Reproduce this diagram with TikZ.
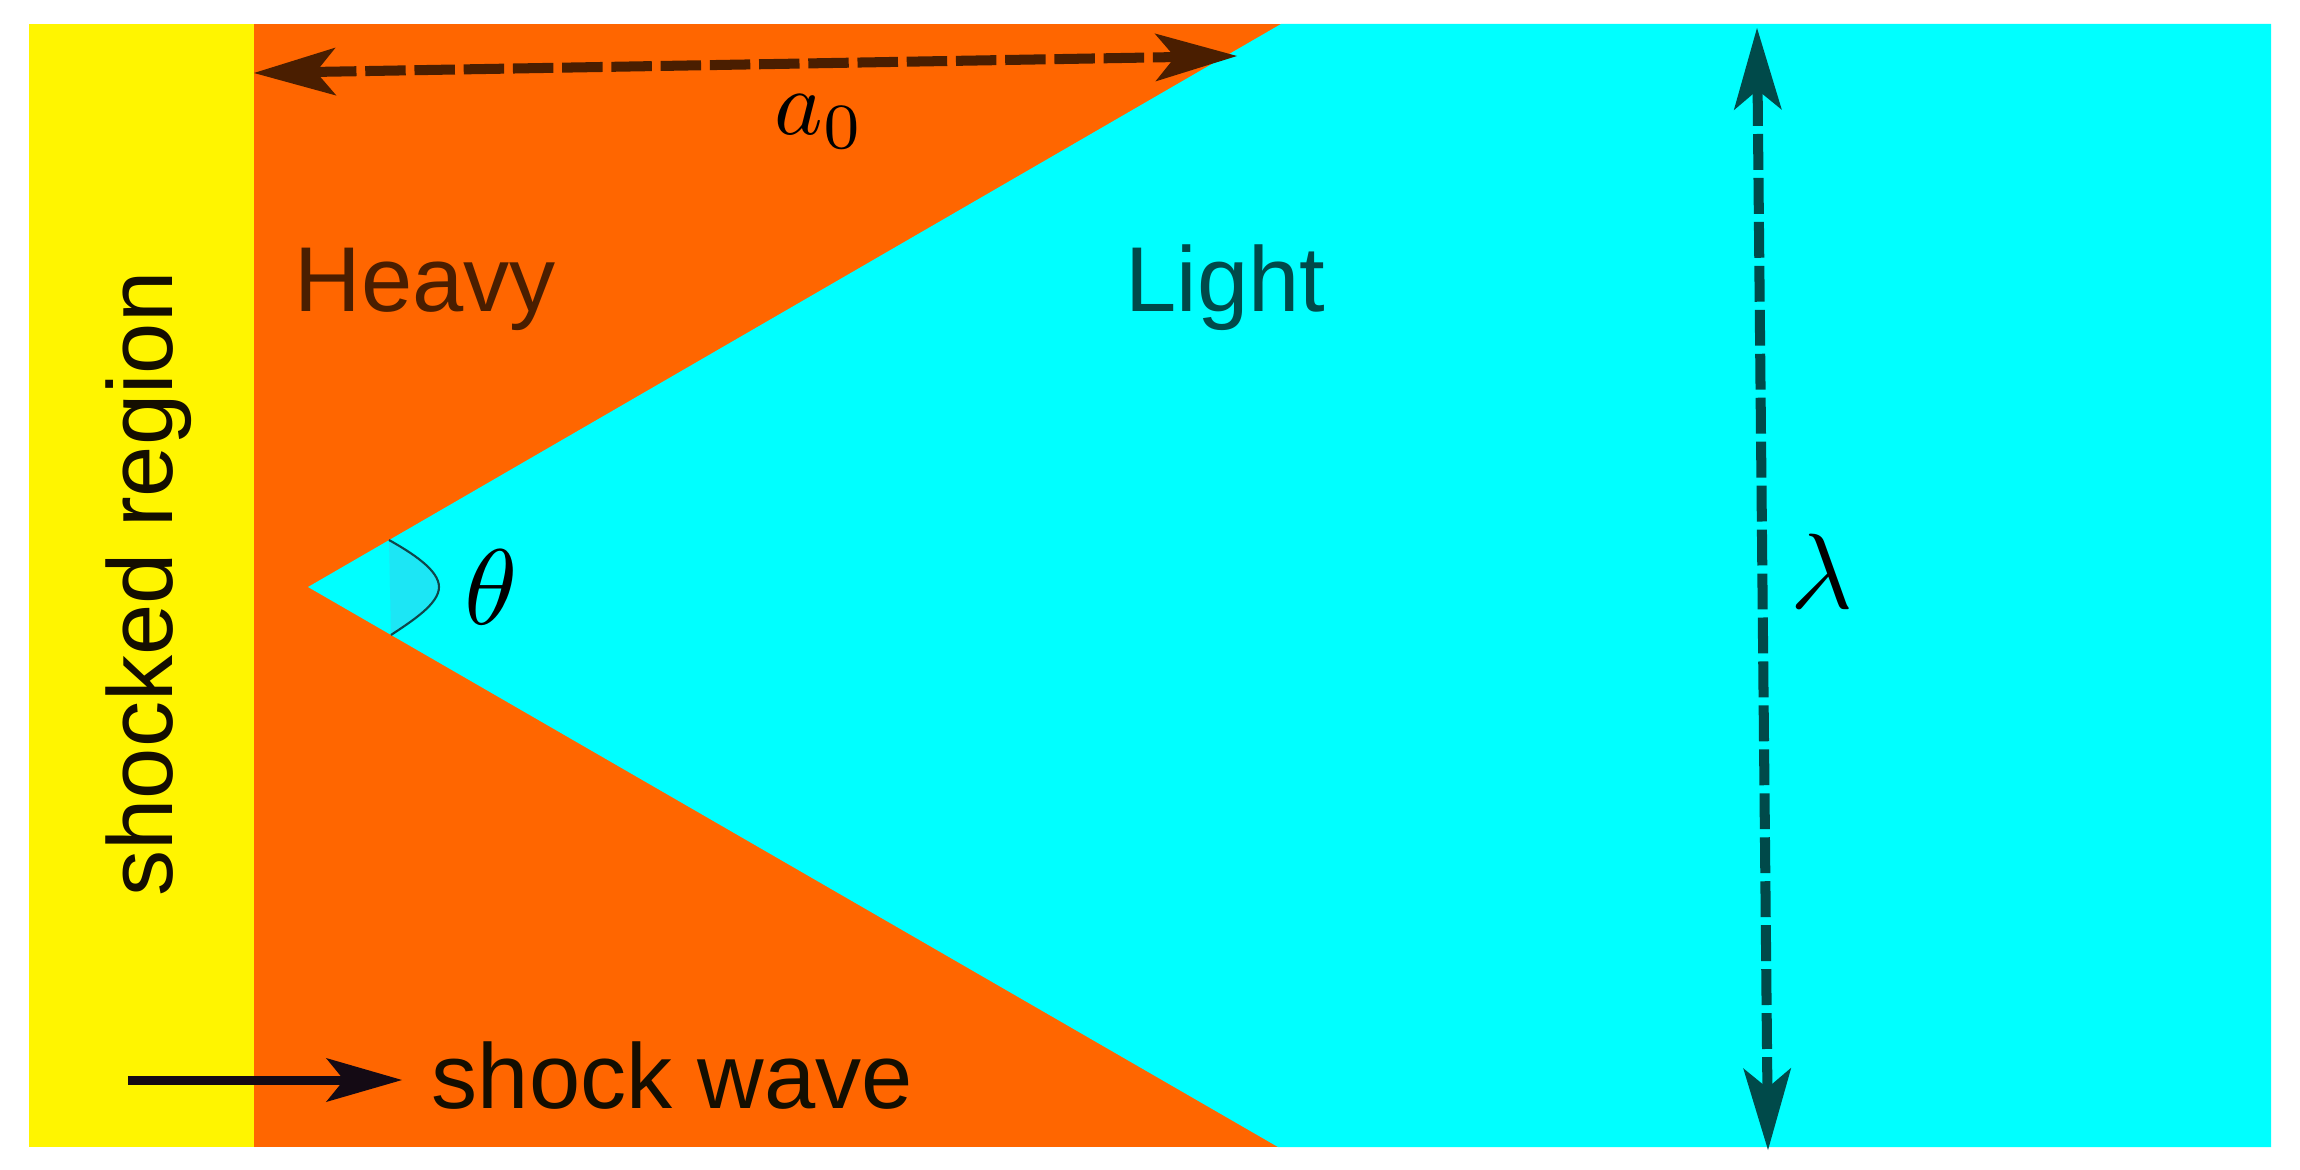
\documentclass[tikz,border=0pt]{standalone}
\usepackage{fontspec}
\setsansfont{Liberation Sans}
\usetikzlibrary{arrows.meta}
\definecolor{yel}{RGB}{255,245,0}
\definecolor{ora}{RGB}{255,102,0}
\definecolor{cya}{RGB}{0,255,255}
\definecolor{thshade}{RGB}{28,230,245}
\definecolor{arccol}{RGB}{15,70,75}
\definecolor{heavytxt}{RGB}{74,30,0}
\definecolor{lighttxt}{RGB}{0,74,74}
\definecolor{nearblack}{RGB}{20,14,0}
\definecolor{arrowblack}{RGB}{20,10,20}
\tikzset{
  dimtip/.tip={Stealth[length=0.82cm,width=0.48cm,inset=0.2cm,line width=0pt]},
  shocktip/.tip={Stealth[length=0.76cm,width=0.44cm,inset=0.18cm,line width=0pt]}
}
\begin{document}
\begin{tikzpicture}[x=0.01cm,y=-0.01cm,
  lbl/.style={font=\sffamily\fontsize{26.2}{32}\selectfont, inner sep=0pt},
  mth/.style={inner sep=0pt, scale=3.05},
  dimarrow/.style={line width=2.85pt, dash pattern=on 11.5pt off 2.5pt, dimtip-dimtip}]
\useasboundingbox (0,0) rectangle (2300,1170);
% regions
\fill[yel] (29,24) rectangle (254,1147);
\fill[ora] (254,24) rectangle (1281,1147);
\fill[cya] (1281,24) -- (308,587) -- (1278,1147) -- (2271,1147) -- (2271,24) -- cycle;
% angle mark
\fill[thshade] (389,540) .. controls (412,553) and (439,570) .. (439,587)
  .. controls (439,604) and (412,621) .. (391,635) -- cycle;
\draw[arccol, line width=0.6pt] (389,540) .. controls (412,553) and (439,570) .. (439,587)
  .. controls (439,604) and (412,621) .. (391,635);
% labels
\node[lbl, rotate=90, anchor=base, text=nearblack] (shocked) at (172,584) {shocked region};
\node[lbl, anchor=base west, text=heavytxt] (heavy) at (294,311) {Heavy};
\node[lbl, anchor=base west, text=lighttxt] (light) at (1125,311) {Light};
\node[lbl, anchor=base west, text=nearblack] (shockwave) at (431,1108) {shock wave};
\node[inner sep=0pt, scale=2.62, anchor=base west] (a0) at (773,135) {$a_0$};
\node[mth] (theta) at (491,587) {$\theta$};
\node[mth] (lam) at (1822,571) {$\lambda$};
% arrows
\coordinate (a0L) at (254,73);
\coordinate (a0R) at (1237,56);
\draw[dimarrow, heavytxt] (a0L) -- (a0R);
\coordinate (lamT) at (1757,28);
\coordinate (lamB) at (1768,1150);
\draw[dimarrow, lighttxt, dash pattern=on 10.2pt off 2.3pt] (lamT) -- (lamB);
\coordinate (swL) at (128,1080);
\coordinate (swR) at (402,1080);
\draw[arrowblack, line width=2.56pt, -shocktip] (swL) -- (swR);
\end{tikzpicture}
\end{document}
